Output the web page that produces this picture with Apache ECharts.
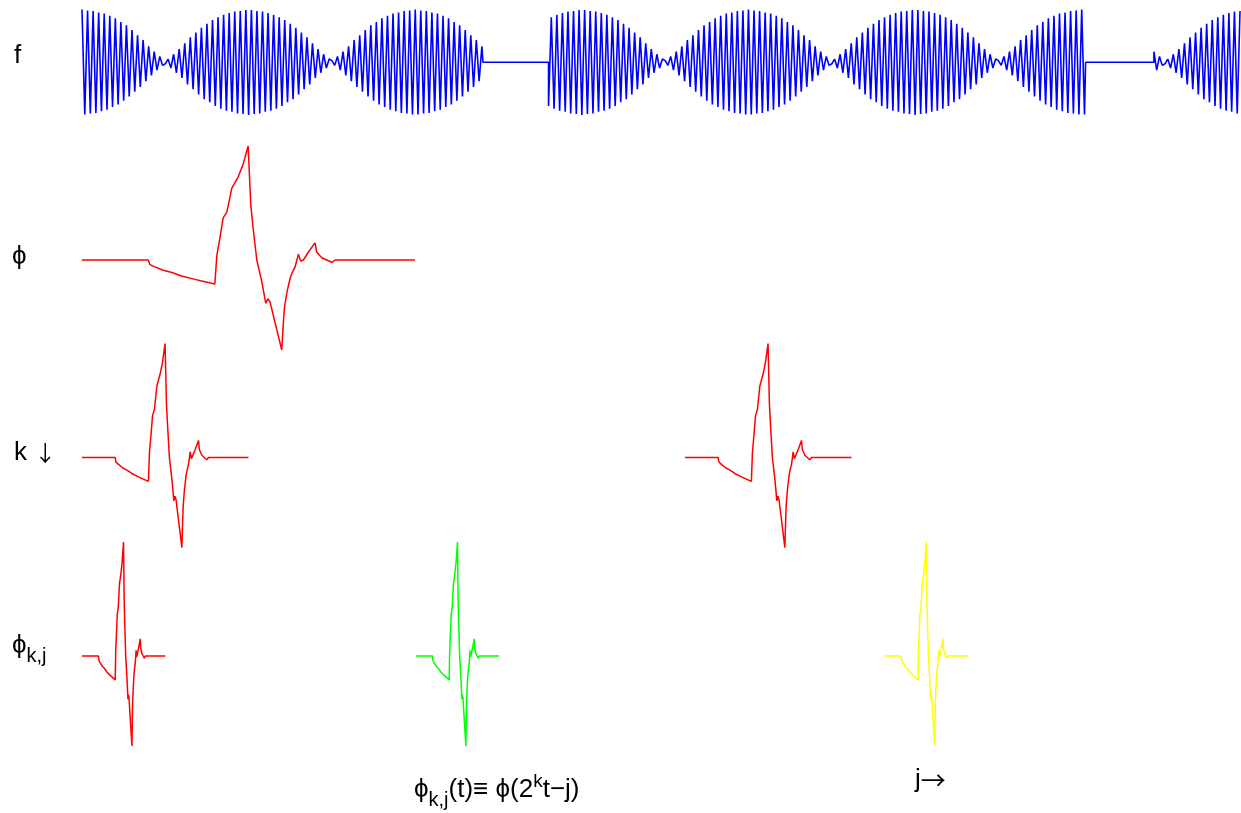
<!DOCTYPE html>
<html>
<head>
<meta charset="utf-8">
<script src="https://cdn.jsdelivr.net/npm/echarts@6/dist/echarts.min.js"></script>
<style>
  html, body { margin: 0; padding: 0; background: #fff; }
  #chart { width: 1241px; height: 813px; }
</style>
</head>
<body>
<div id="chart"></div>
<script>
// f: size of each half-cycle peak, from the fat part of a lobe down to its waist
var fHalfPeaks = [1.00, 0.99, 0.98, 0.97, 0.97, 0.96, 0.94, 0.93, 0.92, 0.90,
                  0.88, 0.85, 0.83, 0.80, 0.76, 0.73, 0.70, 0.65, 0.61, 0.56,
                  0.51, 0.47, 0.42, 0.36, 0.30, 0.25, 0.20, 0.15, 0.11, 0.06, 0.03]
var fHalfPerLobe = 60
// pieces of f that are switched on (in half-cycles), rest is zero
var fSegStart = [0, 168, 386]
var fSegEnd = [144, 361, 417]
var fSpan = 417

// scaling function phi (t over the drawn width, y over the peak)
var phiT = [0, 0.199, 0.204, 0.219, 0.244, 0.270, 0.299, 0.339, 0.369, 0.399,
            0.405, 0.414, 0.424, 0.435, 0.450, 0.454, 0.469, 0.483, 0.499,
            0.507, 0.514, 0.525, 0.540, 0.552, 0.558, 0.565, 0.574, 0.600,
            0.605, 0.608, 0.615, 0.625, 0.630, 0.640, 0.650, 0.657, 0.665,
            0.680, 0.700, 0.705, 0.720, 0.735, 0.750, 0.760, 0.780, 1.0]
var phiY = [0, 0, -0.04, -0.06, -0.09, -0.11, -0.14, -0.17, -0.19, -0.21,
            0.04, 0.19, 0.37, 0.42, 0.63, 0.62, 0.73, 0.83, 1.0,
            0.48, 0.28, 0, -0.19, -0.38, -0.34, -0.37, -0.48, -0.79,
            -0.54, -0.42, -0.29, -0.16, -0.12, -0.06, 0.05, -0.01, 0,
            0.07, 0.15, 0.07, 0.02, 0, -0.02, 0, 0, 0]

// translations j (in widths of phi) for the k rows
var shiftK1 = [0, 1.811]
var shiftK2 = [0, 1.003, 2.411]
var phiSpan = 3.478

function fValue (i) {
  var p = i % fHalfPerLobe
  var a = p <= fHalfPerLobe / 2 ? fHalfPeaks[p] : fHalfPeaks[fHalfPerLobe - p]
  var lobe = Math.floor((i + fHalfPerLobe / 2) / fHalfPerLobe)
  var s = (lobe % 2 === 0 ? 1 : -1) * (i % 2 === 0 ? 1 : -1)
  return s * a
}

var fData = []
for (var k = 0; k < fSegStart.length; k++) {
  var s = fSegStart[k]
  var e = fSegEnd[k]
  if (s > 0) fData.push([s, 0])
  for (var i = s; i <= e; i++) fData.push([i, fValue(i)])
  if (e < fSpan) fData.push([e + 0.4, 0])
}

function phiCopy (scale, shift) {
  return phiT.map(function (t, n) { return [shift + t * scale, phiY[n]] })
}

var fontFam = '"Liberation Sans", Arial, "DejaVu Sans", sans-serif'
var arrowFam = '"Noto Sans CJK SC", "DejaVu Sans", sans-serif'

function lineSeries (idx, data, color, width) {
  return {
    type: 'line',
    xAxisIndex: idx,
    yAxisIndex: idx,
    data: data,
    showSymbol: false,
    symbol: 'none',
    lineStyle: { color: color, width: width },
    animation: false
  }
}

var series = [lineSeries(0, fData, '#0000ff', 1.6), lineSeries(1, phiCopy(1, 0), '#ff0000', 1.5)]
shiftK1.forEach(function (j) {
  series.push(lineSeries(2, phiCopy(0.5, j), '#ff0000', 1.5))
})
var k2Colors = ['#ff0000', '#00ff00', '#ffff00']
shiftK2.forEach(function (j, n) {
  series.push(lineSeries(3, phiCopy(0.25, j), k2Colors[n], 1.5))
})

var xAxes = [
  { type: 'value', gridIndex: 0, min: 0, max: fSpan, show: false },
  { type: 'value', gridIndex: 1, min: 0, max: phiSpan, show: false },
  { type: 'value', gridIndex: 2, min: 0, max: phiSpan, show: false },
  { type: 'value', gridIndex: 3, min: 0, max: phiSpan, show: false }
]
var yAxes = [0, 1, 2, 3].map(function (n) {
  return { type: 'value', gridIndex: n, min: -1, max: 1, show: false }
})

function label (x, y, text, size, rich) {
  return {
    type: 'text',
    x: x,
    y: y,
    silent: true,
    style: {
      text: text,
      fontSize: size,
      fontFamily: fontFam,
      fill: '#000',
      align: 'left',
      verticalAlign: 'middle',
      textAlign: 'left',
      textVerticalAlign: 'middle',
      rich: rich
    }
  }
}

var rich = {
  m: { fontSize: 26, fontFamily: fontFam, color: '#000' },
  s: { fontSize: 20, fontFamily: fontFam, color: '#000', padding: [20, 0, 0, 0] },
  u: { fontSize: 19, fontFamily: fontFam, color: '#000', padding: [0, 0, 16, 0] },
  a: { fontSize: 25, fontFamily: arrowFam, color: '#000' },
  d: { fontSize: 22, fontFamily: arrowFam, color: '#000' }
}

var myChart = echarts.init(document.getElementById('chart'))
var option = {
  backgroundColor: '#fff',
  animation: false,
  grid: [
    { left: 82, top: 9.4, width: 1158, height: 105.6 },
    { left: 82, top: 146, width: 1158, height: 228 },
    { left: 82, top: 343.5, width: 1158, height: 228 },
    { left: 82, top: 542, width: 1158, height: 228 }
  ],
  xAxis: xAxes,
  yAxis: yAxes,
  series: series,
  graphic: [
    label(14, 56, 'f', 26),
    label(12, 257, 'ϕ', 26),
    label(14, 453, '{m|k }{d|↓}', 26, rich),
    label(12, 646, '{m|ϕ}{s|k,j}', 26, rich),
    label(414, 790, '{m|ϕ}{s|k,j}{m|(t)≡ ϕ(2}{u|k}{m|t−j)}', 26, rich),
    label(915, 780, '{m|j}{a|→}', 26, rich)
  ]
}
myChart.setOption(option)
</script>
</body>
</html>
